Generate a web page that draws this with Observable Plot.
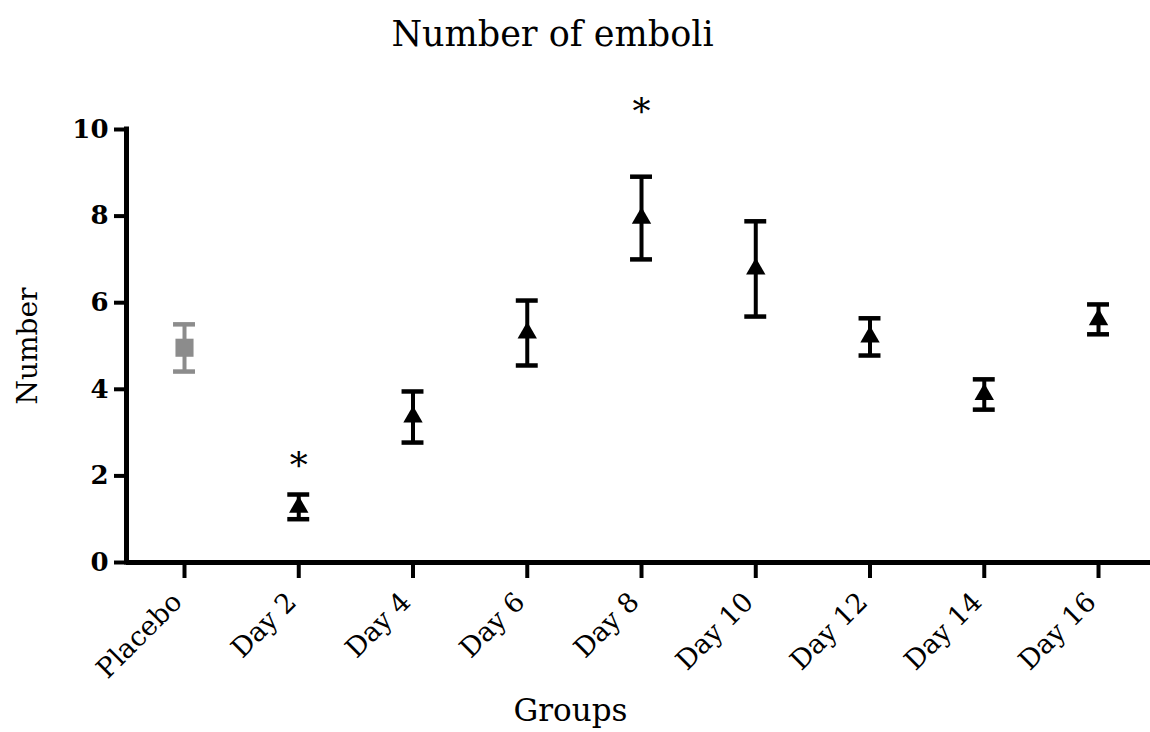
<!DOCTYPE html>
<html>
<head>
<meta charset="utf-8">
<script src="https://cdn.jsdelivr.net/npm/d3@7"></script>
<script src="https://cdn.jsdelivr.net/npm/@observablehq/plot@0.6"></script>
<style>
  html, body { margin: 0; padding: 0; background: #fff; }
  #chart svg { display: block; }
</style>
</head>
<body>
<div id="chart"></div>
<script>
// ---- data ----
const groups = ["Placebo", "Day 2", "Day 4", "Day 6", "Day 8", "Day 10", "Day 12", "Day 14", "Day 16"];
const means  = [4.96, 1.28, 3.36, 5.30, 7.95, 6.78, 5.21, 3.88, 5.61];
const upper  = [5.50, 1.57, 3.95, 6.05, 8.91, 7.88, 5.64, 4.23, 5.96];
const lower  = [4.41, 1.00, 2.77, 4.55, 7.00, 5.68, 4.78, 3.53, 5.27];
const significant = ["Day 2", "Day 8"];
const starY = [2.21, 10.40];
const yTicks = [0, 2, 4, 6, 8, 10];

const title = "Number of emboli";
const xLabel = "Groups";
const yLabel = "Number";

// ---- build table ----
const rows = groups.map((g, i) => ({group: g, i, mean: means[i], hi: upper[i], lo: lower[i]}));
const stars = significant.map((g, k) => ({i: groups.indexOf(g), y: starY[k]}));

const gray = "#8c8c8c";
const colorOf = d => d.group === "Placebo" ? gray : "#000";
const capHalf = 0.096;
const xMin = -0.5077, xMax = 8.455;
const font = "DejaVu Serif";
const xTickValues = d3.range(groups.length);

const chart = Plot.plot({
  width: 1150,
  height: 732,
  marginTop: 129,
  marginBottom: 170,
  marginLeft: 126,
  marginRight: 0,
  style: {fontFamily: font, background: "#fff", color: "#000"},
  x: {type: "linear", domain: [xMin, xMax]},
  y: {domain: [0, 10]},
  marks: [
    // axis lines
    Plot.ruleY([0], {strokeWidth: 5, stroke: "#000"}),
    Plot.ruleX([xMin], {y1: 0, y2: 10, strokeWidth: 5, stroke: "#000", strokeLinecap: "square"}),
    Plot.axisY({
      ticks: yTicks, tickSize: 12, tickPadding: 6, strokeWidth: 4,
      fontSize: 26, fontWeight: "bold", label: null
    }),
    // x tick marks only
    Plot.axisX({
      ticks: xTickValues, tickFormat: () => "", tickSize: 16, strokeWidth: 4, label: null
    }),
    // x tick labels only
    Plot.axisX({
      ticks: xTickValues, tickFormat: i => groups[i],
      tickRotate: -45, tickSize: 0, tickPadding: 22,
      fontSize: 27, label: null, dx: -7, dy: 13
    }),
    // error bars
    Plot.ruleX(rows, {x: "i", y1: "lo", y2: "hi", stroke: colorOf, strokeWidth: 4}),
    Plot.ruleY(rows, {y: "hi", x1: d => d.i - capHalf, x2: d => d.i + capHalf, stroke: colorOf, strokeWidth: 4.5}),
    Plot.ruleY(rows, {y: "lo", x1: d => d.i - capHalf, x2: d => d.i + capHalf, stroke: colorOf, strokeWidth: 4.5}),
    // markers
    Plot.dot(rows.filter(d => d.group === "Placebo"), {x: "i", y: "mean", symbol: "square", r: 10.2, fill: gray, stroke: "none"}),
    Plot.dot(rows.filter(d => d.group !== "Placebo"), {x: "i", y: "mean", symbol: "triangle", r: 7.2, fill: "#000", stroke: "none"}),
    // significance stars
    Plot.text(stars, {x: "i", y: "y", text: () => "*", fontSize: 36, fill: "#000"}),
    // title and axis labels
    Plot.text([title], {text: d => d, frameAnchor: "top", dx: -86, dy: -84, lineAnchor: "bottom", fontSize: 35, fill: "#000"}),
    Plot.text([xLabel], {text: d => d, frameAnchor: "bottom", dx: -68, dy: 158, lineAnchor: "bottom", fontSize: 31, fill: "#000"}),
    Plot.text([yLabel], {text: d => d, frameAnchor: "left", textAnchor: "middle", dx: -90, dy: 0, rotate: -90, lineAnchor: "bottom", fontSize: 28, fill: "#000"})
  ]
});
document.getElementById("chart").append(chart);
</script>
</body>
</html>
